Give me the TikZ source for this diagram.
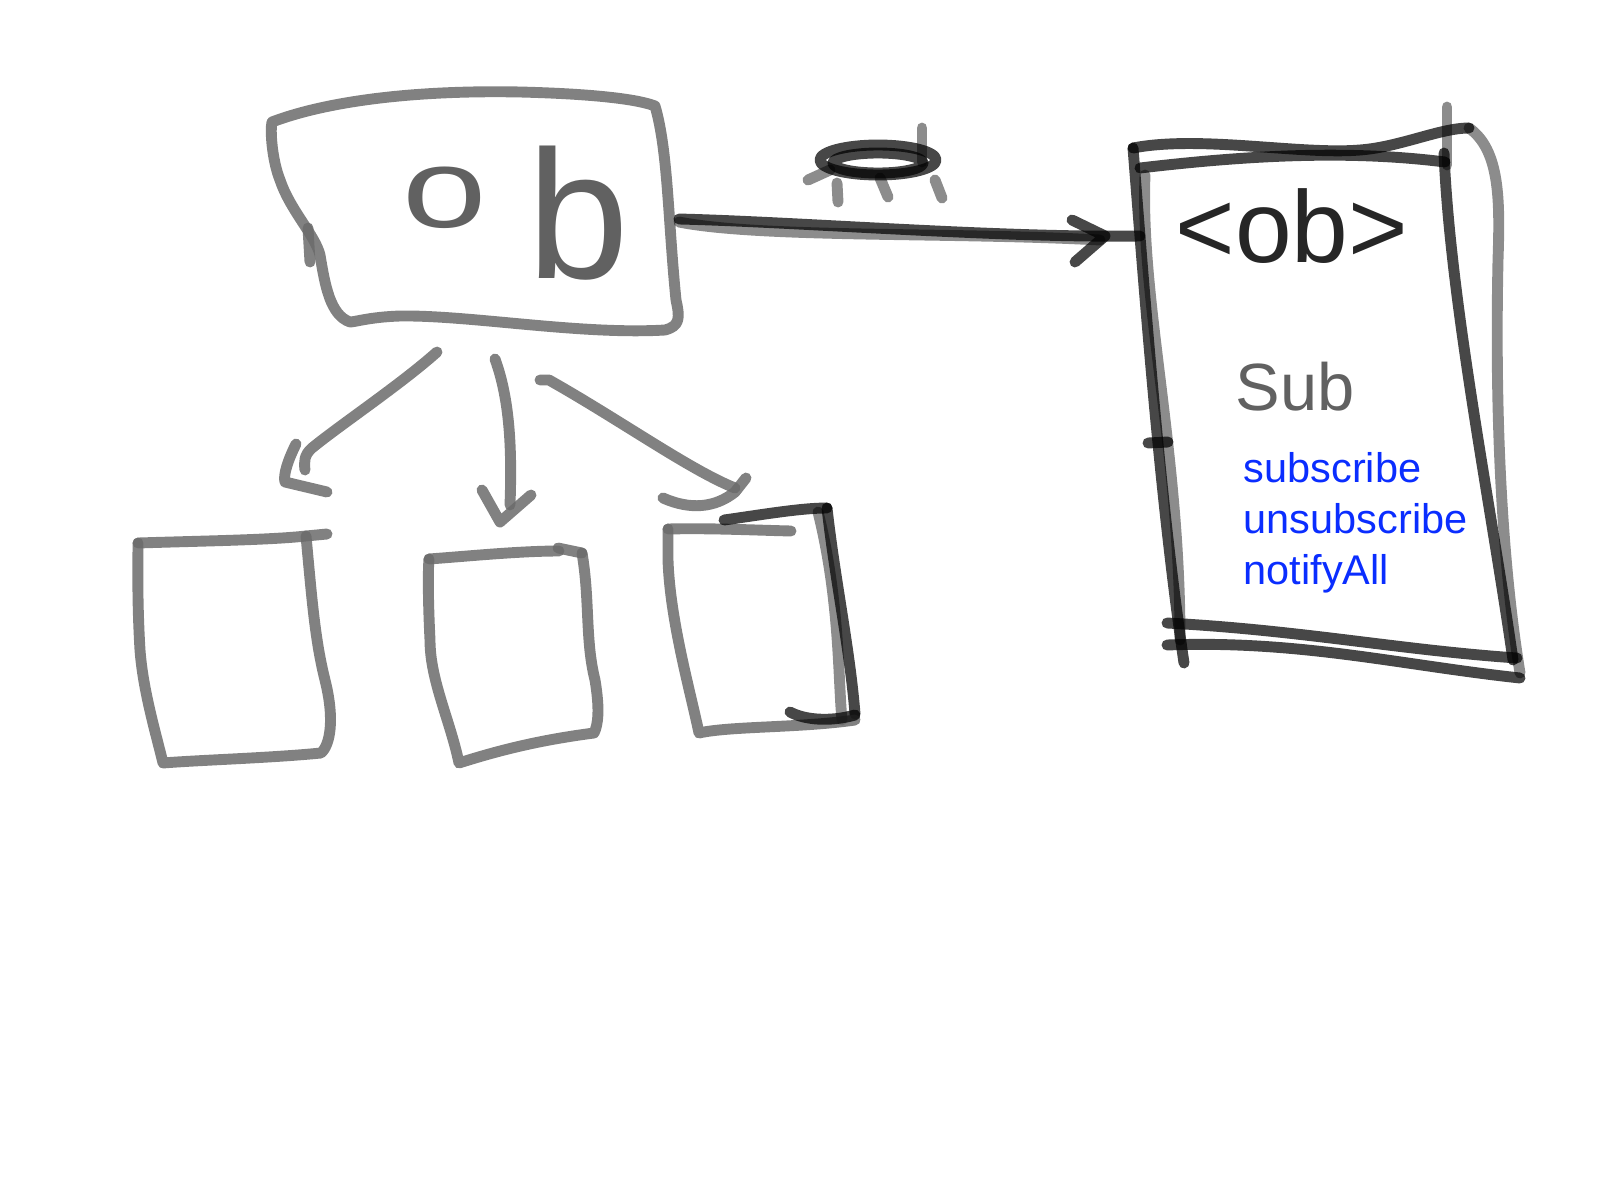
\documentclass[tikz,border=0pt]{standalone}
\usepackage{fontspec}
\setmainfont{Liberation Sans}
\begin{document}
\begin{tikzpicture}[x=0.01cm,y=-0.01cm,
  pen/.style={draw=black!58, line width=3.1pt, line cap=round, line join=round, opacity=0.85},
  ink/.style={draw=black, line width=3.1pt, line cap=round, line join=round, opacity=0.72},
  faint/.style={draw=black, line width=3.1pt, line cap=round, line join=round, opacity=0.45},
  hand/.style={text=black!62, inner sep=0pt, anchor=base west},
  method/.style={text={rgb,255:red,10;green,45;blue,255}, font=\fontsize{11.8}{14}\selectfont, anchor=base west, inner sep=0pt}]
\useasboundingbox (0,0) rectangle (1600,1200);

% ---------- top box (ob) ----------
\draw[pen] (272,122) .. controls (330,100) and (420,90) .. (520,92)
  .. controls (600,94) and (640,100) .. (655,106)
  .. controls (668,150) and (668,220) .. (676,300)
  .. controls (680,318) and (680,326) .. (665,330)
  .. controls (580,335) and (470,315) .. (400,316)
  .. controls (370,317) and (355,322) .. (350,322)
  .. controls (330,315) and (325,285) .. (320,255)
  .. controls (315,235) and (290,210) .. (280,180)
  .. controls (272,160) and (270,130) .. (272,122);
\draw[pen] (308,228) -- (310,262);
\node[hand, font=\fontsize{52}{52}\selectfont] (ob) at (402,278)
  {\raisebox{0.5cm}{\fontsize{32}{32}\selectfont\scalebox{1.35}[1]{o}}\hspace{0.4cm}b};
\coordinate (obR) at (679,219);
\coordinate (obB1) at (437,352);
\coordinate (obB2) at (495,359);
\coordinate (obB3) at (549,380);

% ---------- main arrow to subject ----------
\coordinate (subL) at (1140,236);
\draw[ink] (obR) .. controls (800,222) and (1000,238) .. (subL);
\draw[faint] (679,222) .. controls (760,238) and (950,232) .. (1100,240);
\draw[ink] (1072,220) -- (1105,236) -- (1075,262);

% scribbled label above the arrow
\draw[ink] (878,160) ellipse [x radius=0.58cm, y radius=0.15cm];
\draw[ink] (878,163) ellipse [x radius=0.45cm, y radius=0.10cm];
\draw[faint] (808,180) -- (830,170);
\draw[faint] (837,183) -- (838,202);
\draw[faint] (880,178) -- (888,197);
\draw[faint] (922,128) -- (922,162);
\draw[faint] (935,180) -- (942,198);

% ---------- subject box ----------
\draw[ink] (1133,148) .. controls (1200,135) and (1300,155) .. (1360,150)
  .. controls (1400,147) and (1440,128) .. (1469,128);
\draw[ink] (1140,168) .. controls (1250,155) and (1350,150) .. (1445,162);
\draw[ink] (1133,148) .. controls (1145,300) and (1160,500) .. (1184,663);
\draw[faint] (1145,175) .. controls (1140,300) and (1180,450) .. (1180,640);
\draw[faint] (1447,107) -- (1447,165);
\draw[ink] (1444,153) .. controls (1450,300) and (1490,500) .. (1513,660);
\draw[faint] (1469,128) .. controls (1500,150) and (1500,200) .. (1498,260)
  .. controls (1495,400) and (1500,550) .. (1520,673);
\draw[ink] (1167,623) .. controls (1300,630) and (1400,650) .. (1517,658);
\draw[ink] (1167,645) .. controls (1300,640) and (1400,665) .. (1520,678);
\draw[ink] (1148,443) -- (1168,442);

\node[hand, text=black!85, font=\fontsize{29}{29}\selectfont] (hdr) at (1175,262) {<ob>};
\node[hand, font=\fontsize{19}{19}\selectfont] (sub) at (1235,410) {Sub};
\node[method] (m1) at (1243,482) {subscribe};
\node[method] (m2) at (1243,533) {unsubscribe};
\node[method] (m3) at (1243,584) {notifyAll};

% ---------- arrows to observers ----------
\coordinate (aT) at (305,470);
\coordinate (bT) at (510,505);
\coordinate (cT) at (735,488);
\draw[pen] (obB1) .. controls (400,385) and (340,425) .. (312,448)
  .. controls (304,455) and (304,462) .. (aT);
\draw[pen] (296,444) .. controls (288,460) and (283,475) .. (285,482) -- (327,492);
\draw[pen] (obB2) .. controls (510,400) and (512,450) .. (bT);
\draw[pen] (482,490) -- (500,522) -- (531,495);
\draw[pen] (540,380) -- (obB3) .. controls (620,420) and (690,470) .. (cT);
\draw[pen] (663,498) .. controls (690,510) and (715,508) .. (735,492) -- (746,478);

% ---------- observer A ----------
\draw[pen] (138,543) .. controls (200,541) and (270,540) .. (306,536) -- (327,534);
\draw[pen] (306,536) .. controls (312,600) and (315,640) .. (325,680)
  .. controls (335,720) and (330,745) .. (321,753)
  .. controls (270,758) and (200,760) .. (163,763)
  .. controls (155,730) and (143,690) .. (140,650)
  .. controls (137,600) and (138,560) .. (138,543);

% ---------- observer B ----------
\draw[pen] (429,559) .. controls (470,556) and (520,551) .. (559,551);
\draw[pen] (558,548) -- (582,553);
\draw[pen] (582,553) .. controls (590,600) and (585,640) .. (595,680)
  .. controls (600,710) and (598,725) .. (594,733)
  .. controls (540,740) and (500,750) .. (459,763)
  .. controls (450,720) and (430,680) .. (430,640)
  .. controls (428,600) and (428,570) .. (429,559);

% ---------- observer C ----------
\draw[pen] (668,529) .. controls (710,528) and (750,530) .. (791,531);
\draw[ink] (724,520) .. controls (760,515) and (800,508) .. (827,508);
\draw[ink] (827,508) .. controls (835,580) and (850,650) .. (855,714);
\draw[faint] (818,512) .. controls (840,600) and (838,680) .. (842,720);
\draw[pen] (855,720) .. controls (800,728) and (730,726) .. (699,733)
  .. controls (690,690) and (670,620) .. (668,560) -- (668,529);
\draw[ink] (790,712) .. controls (805,720) and (830,722) .. (855,715);
\end{tikzpicture}
\end{document}
